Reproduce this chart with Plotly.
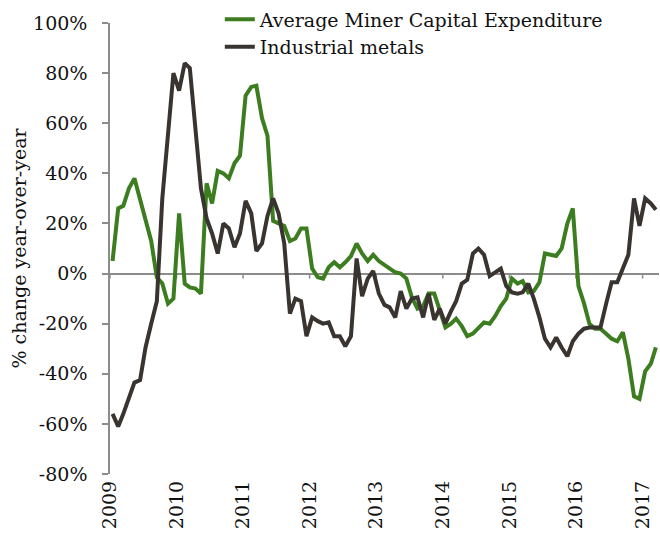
import pandas as pd
import plotly.graph_objects as go

# monthly, Jan 2009 - Mar 2017, % change y/y
months = pd.date_range("2009-01-01", periods=99, freq="MS") + pd.Timedelta(days=14)

capex = [
    5, 26, 27, 34, 38, 30, 22, 13, -1.5, -4, -12, -10,          # 2009
    24, -4, -5.5, -6, -8, 36, 28, 41, 40, 38, 44, 47,           # 2010
    71, 74.5, 75, 62, 55, 21, 20, 19, 13, 14, 18, 18,           # 2011
    2, -1.5, -2, 2.5, 4.5, 2.5, 4.5, 7, 12, 8, 5, 7.5,          # 2012
    5, 3.5, 2, 0.5, 0, -2, -9.5, -14, -13, -8, -8, -15,         # 2013
    -21.5, -20, -18, -21, -25, -24, -22, -19.5, -20, -17, -13, -10,  # 2014
    -2, -4, -3, -7.5, -7, -3.5, 8, 7.5, 7, 10, 20, 26,          # 2015
    -5, -12, -20, -22, -22, -24, -26, -27, -23.5, -34, -49, -50,  # 2016
    -39, -36, -29.5,                                            # 2017
]

metals = [
    -56, -61, -56, -50, -43.5, -42.5, -29.5, -20, -11, 30, 55, 80,    # 2009
    73, 84, 82, 57, 34, 22, 16, 8, 20, 18, 10.5, 16,                  # 2010
    29, 24, 9, 12, 23, 30, 24, 12, -16, -10, -11, -25,                # 2011
    -17.5, -19, -20, -19.5, -25, -25, -29, -25, 6, -9, -2, 1,         # 2012
    -8, -12.5, -13.5, -17.5, -7, -14, -10, -9.5, -17.5, -8, -18.5, -14,  # 2013
    -20, -15, -11, -4, -2.5, 8, 10, 7.5, -1, 0.5, 2, -5,              # 2014
    -7.5, -8, -7.5, -4, -10, -17.5, -26, -29.5, -25.5, -29.5, -33, -27,  # 2015
    -24, -22, -21.5, -21.5, -21.5, -12, -3.5, -3.5, 2.5, 7.5, 30, 19,  # 2016
    30, 28, 25.5,                                                     # 2017
]

years = pd.date_range("2009-01-01", "2017-01-01", freq="YS")
year_labels = [str(y.year) for y in years]

pct_ticks = [-80, -60, -40, -20, 0, 20, 40, 60, 80, 100]
pct_labels = [f"{p}%" for p in pct_ticks]

green = "#3b7d1f"
dark = "#3a3431"
grey = "#8c8c8c"
font = "DejaVu Serif"

fig = go.Figure()
fig.add_trace(go.Scatter(x=months, y=capex, mode="lines",
                         name="Average Miner Capital Expenditure",
                         line=dict(color=green, width=4)))
fig.add_trace(go.Scatter(x=months, y=metals, mode="lines",
                         name="Industrial metals",
                         line=dict(color=dark, width=4)))

# little year ticks sitting on the zero line
for y in years:
    fig.add_shape(type="line", xref="x", yref="y", x0=y, x1=y, y0=0, y1=-2,
                  line=dict(color=grey, width=1.5), layer="below")

fig.update_layout(
    width=660, height=539,
    margin=dict(l=110, r=1, t=22, b=65),
    paper_bgcolor="white", plot_bgcolor="white",
    font=dict(family=font, size=19, color="#111111"),
    showlegend=True,
    legend=dict(x=0.2, y=1.048, xanchor="left", yanchor="top",
                bgcolor="rgba(0,0,0,0)", font=dict(size=19),
                tracegroupgap=0, itemwidth=30),
)
fig.update_xaxes(
    range=["2009-01-01", "2017-04-01"], automargin=False,
    tickvals=years, ticktext=year_labels, tickangle=-90,
    showgrid=False, showline=False, zeroline=False, ticks="",
    ticklabelstandoff=2,
)
fig.update_yaxes(
    range=[-80, 100], automargin=False,
    tickvals=pct_ticks, ticktext=pct_labels,
    showgrid=False, showline=True, linecolor=grey, linewidth=1.5,
    ticks="outside", ticklen=6, tickcolor=grey, tickwidth=1.5,
    zeroline=True, zerolinecolor=grey, zerolinewidth=2,
    ticklabelstandoff=11,
    title=dict(text="% change year-over-year", standoff=1, font=dict(size=19)),
)

# drop the default 8px page margin so the figure fills the window
fig.write_html("out.html", config={"displayModeBar": False},
               post_script="document.body.style.margin='0';")
